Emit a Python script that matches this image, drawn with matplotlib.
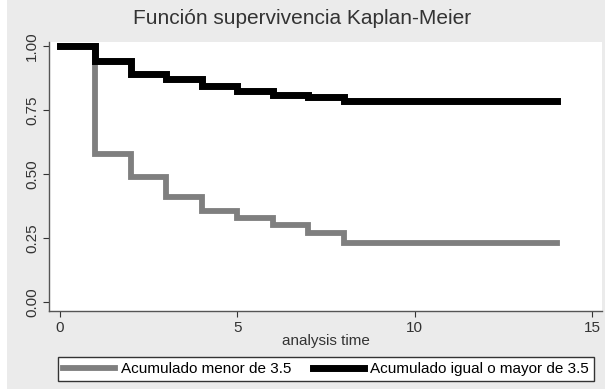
import matplotlib
matplotlib.use("Agg")
import matplotlib.pyplot as plt
from matplotlib.patches import Rectangle

plt.rcParams['font.family'] = ['Liberation Sans', 'DejaVu Sans']

# Kaplan-Meier step values (time, survival)
t_menor = [0, 1, 2, 3, 4, 5, 6, 7, 8, 14]
s_menor = [1.0, 0.58, 0.49, 0.41, 0.355, 0.33, 0.30, 0.27, 0.23, 0.23]
t_mayor = [0, 1, 2, 3, 4, 5, 6, 7, 8, 14]
s_mayor = [1.0, 0.94, 0.89, 0.87, 0.845, 0.825, 0.81, 0.80, 0.785, 0.785]

labels = ['Acumulado menor de 3.5', 'Acumulado igual o mayor de 3.5']
yticks = [0.0, 0.25, 0.5, 0.75, 1.0]
ytick_labels = ['0.00', '0.25', '0.50', '0.75', '1.00']
xticks = [0, 5, 10, 15]

W, H = 605, 389
fig = plt.figure(figsize=(W / 100, H / 100), dpi=100)
fig.patch.set_facecolor('#ebebeb')
# thin white margin on the left edge of the scan
fig.patches.append(Rectangle((0, 0), 7 / W, 1, transform=fig.transFigure,
                             facecolor='white', edgecolor='none', zorder=-1))

ax = fig.add_axes([49 / W, (H - 311) / H, (602 - 49) / W, (311 - 42) / H])
ax.set_facecolor('white')

l1, = ax.step(t_menor, s_menor, where='post', color='#7f7f7f', lw=4.2,
              solid_joinstyle='miter')
l2, = ax.step(t_mayor, s_mayor, where='post', color='black', lw=5,
              solid_joinstyle='miter')

ax.set_xlim(-0.31, 15.28)
ax.set_ylim(-0.035, 1.016)
ax.set_xticks(xticks)
ax.set_yticks(yticks)
ax.set_yticklabels(ytick_labels, rotation=90, va='center')
ax.tick_params(labelsize=11, colors='#333333', length=4, width=0.8)
ax.tick_params(axis='y', pad=3)
for s in ['top', 'right']:
    ax.spines[s].set_visible(False)
for s in ['left', 'bottom']:
    ax.spines[s].set_color('#555555')
    ax.spines[s].set_linewidth(1)

ax.set_xlabel('analysis time', fontsize=11, color='#333333', labelpad=-1)
fig.text(0.5, 1 - 18 / H, 'Función supervivencia Kaplan-Meier',
         ha='center', va='center', fontsize=15, color='#333333')

leg = fig.legend([l1, l2], labels, loc='center',
                 bbox_to_anchor=((55 + 597) / 2 / W, 1 - 369 / H),
                 ncol=2, fontsize=11, frameon=True, fancybox=False,
                 handlelength=3.4, columnspacing=1.4, handletextpad=0.35,
                 borderpad=0.35, edgecolor='#333333', facecolor='white',
                 framealpha=1)
leg.get_frame().set_linewidth(1)

fig.savefig('out.png', dpi=100)
